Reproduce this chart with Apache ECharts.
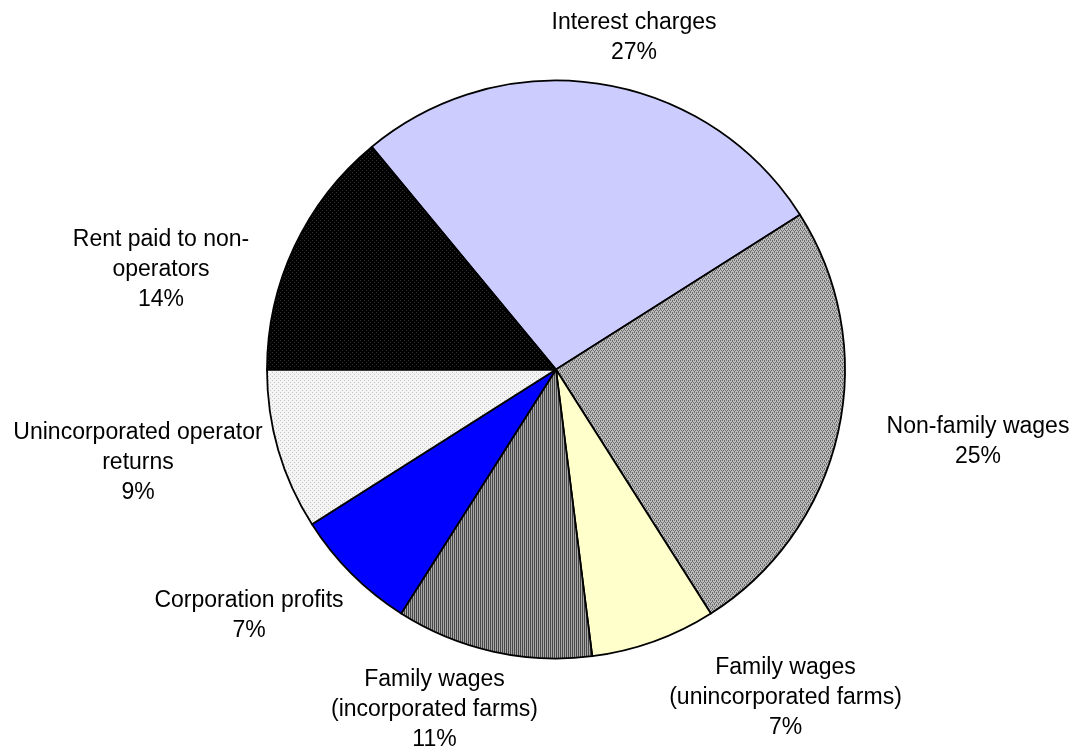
<!DOCTYPE html>
<html><head><meta charset="utf-8">
<script src="https://cdn.jsdelivr.net/npm/echarts@6/dist/echarts.min.js"></script>
<style>html,body{margin:0;padding:0;background:#fff}#c{width:1075px;height:748px}</style>
</head><body><div id="c"></div>
<script>
// ---- data ----
const categories = ['Interest charges', 'Non-family wages', 'Family wages\n(unincorporated farms)', 'Family wages\n(incorporated farms)', 'Corporation profits', 'Unincorporated operator\nreturns', 'Rent paid to non-\noperators'];
const shares = [27, 25, 7, 11, 7, 9, 14];

// ---- styling / layout (not data) ----
function pattern(w, h, draw) {
  const c = document.createElement('canvas');
  c.width = w; c.height = h;
  const g = c.getContext('2d');
  draw(g);
  return { image: c, repeat: 'repeat' };
}
const fills = [
  '#CCCCFF',
  pattern(4, 4, g => { g.fillStyle = '#bdbdbd'; g.fillRect(0,0,4,4); g.fillStyle = '#6e6e6e';
    [[0,0],[2,0],[1,2],[3,2],[0,1],[2,3]].forEach(p => g.fillRect(p[0],p[1],1,1)); }),
  '#FFFFCC',
  pattern(2, 2, g => { g.fillStyle = '#a8a8a8'; g.fillRect(0,0,2,2); g.fillStyle = '#474747'; g.fillRect(0,0,1,2); }),
  '#0000FF',
  pattern(4, 4, g => { g.fillStyle = '#f4f4f4'; g.fillRect(0,0,4,4); g.fillStyle = '#c4c4c4';
    [[0,0],[2,2]].forEach(p => g.fillRect(p[0],p[1],1,1)); }),
  pattern(4, 4, g => { g.fillStyle = '#000000'; g.fillRect(0,0,4,4); g.fillStyle = '#2e2e2e';
    [[0,0],[2,2]].forEach(p => g.fillRect(p[0],p[1],1,1)); })
];
const pieCenter = [556, 369.5];
const pieRadius = 289;
// label block centre, offset from pie centre (layout only)
const labelOffsets = [[78, -331.5], [422, 72.5], [229.5, 328], [-121.5, 340.5], [-307, 246.5], [-418, 93.5], [-395, -100]];

const chart = echarts.init(document.getElementById('c'), null, { renderer: 'canvas' });
chart.setOption({
  backgroundColor: '#ffffff',
  animation: false,
  series: [{
    type: 'pie',
    center: pieCenter,
    radius: pieRadius,
    startAngle: 129.6,
    clockwise: true,
    avoidLabelOverlap: false,
    percentPrecision: 0,
    itemStyle: { borderColor: '#000', borderWidth: 1.8 },
    emphasis: { disabled: true },
    labelLine: { show: false },
    label: {
      show: true,
      position: 'outside',
      formatter: p => p.name + '\n' + p.value + '%',
      fontFamily: 'Liberation Sans, Arial, sans-serif',
      fontSize: 23,
      lineHeight: 30,
      color: '#000',
      align: 'center'
    },
    labelLayout: params => {
      const o = labelOffsets[params.dataIndex];
      return { x: pieCenter[0] + o[0], y: pieCenter[1] + o[1], align: 'center', verticalAlign: 'middle' };
    },
    data: categories.map((n, i) => ({ name: n, value: shares[i], itemStyle: { color: fills[i] } }))
  }]
});
</script>
</body></html>
